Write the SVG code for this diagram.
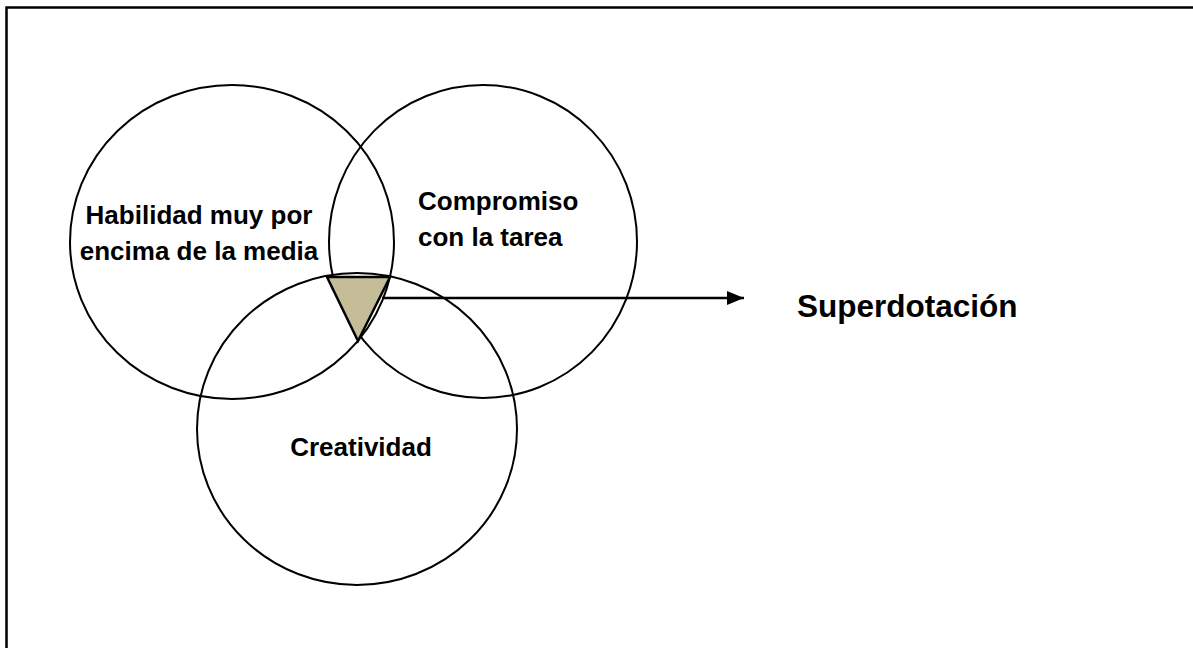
<svg xmlns="http://www.w3.org/2000/svg" width="1193" height="648" viewBox="0 0 1193 648">
<style>
.c{fill:none;stroke:#000;stroke-width:2}
.t{font-family:"Liberation Sans",Arial,sans-serif;font-weight:bold;font-size:26px;fill:#000}
</style>
<defs>
<marker id="ah" markerWidth="17" markerHeight="14" refX="17" refY="7" orient="auto" markerUnits="userSpaceOnUse" viewBox="0 0 17 14">
<path d="M0,0 L17,7 L0,14 z" fill="#000"/>
</marker>
</defs>
<rect x="0" y="0" width="1193" height="648" fill="#fff"/>
<path d="M6.5,648 V7.5 H1193" fill="none" stroke="#000" stroke-width="2.5"/>
<g id="habilidad">
<ellipse class="c" cx="232" cy="242" rx="162" ry="157"/>
<text class="t" x="199" y="224" text-anchor="middle">Habilidad muy por</text>
<text class="t" x="199" y="260" text-anchor="middle">encima de la media</text>
</g>
<g id="compromiso">
<ellipse class="c" cx="483" cy="241.5" rx="154" ry="156.5"/>
<text class="t" x="418" y="210">Compromiso</text>
<text class="t" x="418" y="246">con la tarea</text>
</g>
<g id="creatividad">
<ellipse class="c" cx="357" cy="429" rx="160" ry="156"/>
<text class="t" x="361" y="456" text-anchor="middle">Creatividad</text>
</g>
<g id="interseccion">
<polygon points="327,277 390,277 358,341" fill="#c4bd97" stroke="#000" stroke-width="2.5" stroke-linejoin="miter"/>
</g>
<g id="connectors">
<line x1="382" y1="298" x2="744" y2="298" stroke="#000" stroke-width="2.5" marker-end="url(#ah)"/>
</g>
<g id="superdotacion">
<text class="t" x="797" y="317" style="font-size:31.5px">Superdotación</text>
</g>
</svg>
